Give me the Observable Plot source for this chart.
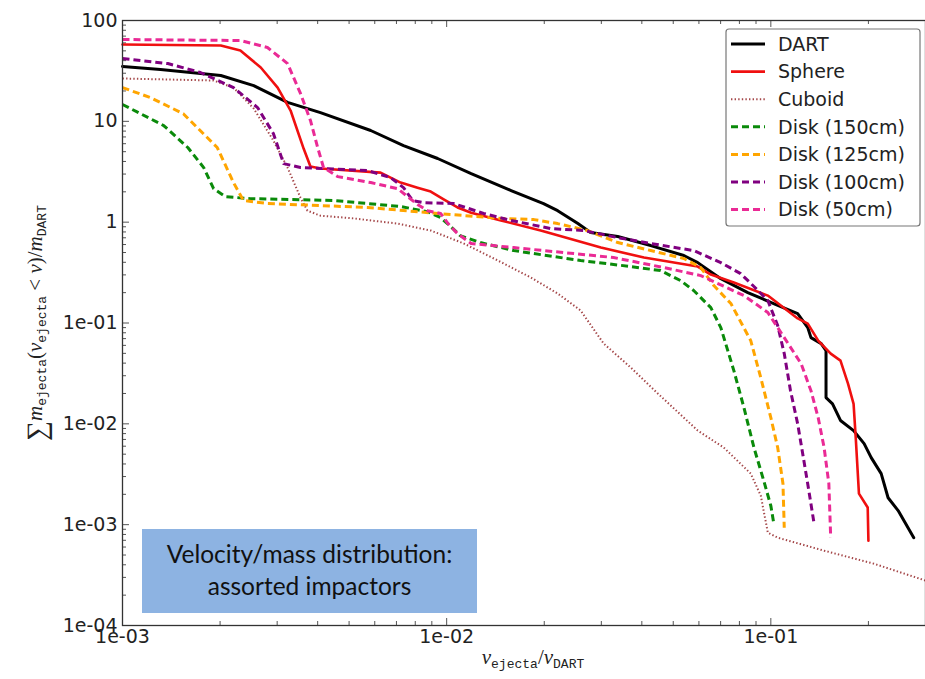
<!DOCTYPE html>
<html><head><meta charset="utf-8">
<script src="https://cdn.jsdelivr.net/npm/d3@7"></script>
<script src="https://cdn.jsdelivr.net/npm/@observablehq/plot@0.6"></script>
<style>body{margin:0;background:#fff}#chart{width:925px;height:679px;overflow:hidden}</style>
</head><body><div id="chart"></div>
<script>
// ---- data ----
const seriesNames = ["DART", "Sphere", "Cuboid", "Disk (150cm)", "Disk (125cm)", "Disk (100cm)", "Disk (50cm)"];
const seriesColors = ["#000000", "#f01010", "#a5484a", "#0a8a0a", "#ffa500", "#800080", "#ea2a95"];

const dartX = [1e-3,1.31e-3,2.01e-3,2.54e-3,3.23e-3,4.08e-3,5.83e-3,7.36e-3,9.38e-3,1.19e-2,1.58e-2,1.99e-2,2.20e-2,2.54e-2,2.78e-2,3.37e-2,4.26e-2,5.39e-2,5.95e-2,7.01e-2,8.49e-2,0.102,0.121,0.130,0.133,0.143,0.148,0.148,0.155,0.164,0.180,0.194,0.204,0.219,0.230,0.247,0.276];
const dartY = [35.0,32.7,28.5,22.6,15.4,12.2,8.11,5.75,4.28,3.03,2.06,1.53,1.30,0.968,0.789,0.720,0.586,0.467,0.397,0.275,0.200,0.156,0.124,0.0900,0.0716,0.0625,0.0532,0.0182,0.0158,0.0108,0.00857,0.00637,0.00462,0.00321,0.00185,0.00138,0.000743];

const sphereX = [1e-3,2.01e-3,2.31e-3,2.67e-3,3.01e-3,3.30e-3,3.62e-3,3.80e-3,4.08e-3,6.25e-3,7.21e-3,8.13e-3,8.93e-3,9.79e-3,1.08e-2,1.19e-2,1.47e-2,1.95e-2,2.99e-2,4.06e-2,5.95e-2,6.53e-2,7.69e-2,9.79e-2,0.121,0.130,0.140,0.153,0.164,0.173,0.180,0.183,0.187,0.199,0.200];
const sphereY = [57.8,56.5,50.4,34.2,21.6,12.8,5.37,3.56,3.40,3.10,2.47,2.20,2.01,1.68,1.40,1.24,1.04,0.826,0.560,0.446,0.363,0.302,0.252,0.187,0.111,0.0986,0.0668,0.0497,0.0424,0.0251,0.0158,0.00681,0.00203,0.00148,0.000693];

const cuboidX = [1e-3,1.91e-3,2.20e-3,2.54e-3,2.92e-3,3.23e-3,3.54e-3,3.72e-3,4.08e-3,5.16e-3,7.06e-3,8.93e-3,1.13e-2,1.44e-2,1.82e-2,2.20e-2,2.59e-2,3.05e-2,3.70e-2,4.48e-2,5.95e-2,7.16e-2,8.67e-2,9.31e-2,9.79e-2,0.105,0.146,0.208,0.301];
const cuboidY = [26.6,25.4,21.6,13.4,6.45,3.48,1.75,1.30,1.16,1.09,0.968,0.826,0.614,0.416,0.282,0.196,0.133,0.0625,0.0361,0.0200,0.00857,0.00581,0.00321,0.00194,0.000833,0.000743,0.000552,0.000410,0.000278];

const disk150X = [1e-3,1.34e-3,1.59e-3,1.78e-3,1.91e-3,2.08e-3,2.48e-3,4.48e-3,7.21e-3,8.73e-3,9.58e-3,1.03e-2,1.10e-2,1.27e-2,1.61e-2,2.59e-2,3.70e-2,4.57e-2,5.27e-2,5.78e-2,6.53e-2,7.01e-2,7.69e-2,8.26e-2,8.87e-2,9.51e-2,0.100,0.102];
const disk150Y = [14.7,9.08,5.50,3.48,2.15,1.79,1.71,1.64,1.43,1.27,1.11,0.904,0.736,0.628,0.523,0.416,0.363,0.331,0.263,0.210,0.142,0.0900,0.0337,0.0145,0.00581,0.00273,0.00154,0.00105];

const disk125X = [1e-3,1.22e-3,1.54e-3,1.96e-3,2.20e-3,2.36e-3,2.80e-3,5.70e-3,9.38e-3,1.47e-2,1.86e-2,2.20e-2,2.72e-2,3.37e-2,4.26e-2,5.39e-2,6.08e-2,6.67e-2,7.53e-2,8.67e-2,9.31e-2,0.100,0.105,0.109,0.110];
const disk125Y = [21.6,17.2,11.9,5.50,2.47,1.64,1.53,1.40,1.22,1.09,1.06,0.968,0.826,0.628,0.523,0.436,0.355,0.235,0.156,0.0668,0.0287,0.0115,0.00581,0.00255,0.000933];

const disk100X = [1e-3,1.38e-3,1.74e-3,2.20e-3,2.61e-3,2.92e-3,3.14e-3,3.54e-3,5.70e-3,6.71e-3,7.36e-3,7.85e-3,8.49e-3,1.05e-2,1.30e-2,1.58e-2,2.09e-2,2.65e-2,3.37e-2,4.26e-2,5.78e-2,7.01e-2,8.07e-2,8.87e-2,9.79e-2,0.105,0.110,0.115,0.121,0.126,0.131,0.136];
const disk100Y = [42.0,37.4,30.5,21.6,13.7,7.57,3.81,3.48,3.25,2.77,2.20,1.64,1.56,1.53,1.22,1.04,0.865,0.826,0.703,0.614,0.523,0.397,0.309,0.230,0.167,0.0942,0.0497,0.0213,0.0100,0.00462,0.00217,0.00102];

const disk50X = [1e-3,2.31e-3,2.80e-3,3.23e-3,3.54e-3,3.80e-3,4.00e-3,4.17e-3,4.61e-3,5.83e-3,7.06e-3,7.58e-3,8.13e-3,8.73e-3,9.58e-3,1.01e-2,1.08e-2,1.19e-2,1.61e-2,2.30e-2,3.27e-2,4.67e-2,6.08e-2,8.26e-2,9.79e-2,0.110,0.124,0.133,0.140,0.146,0.151,0.153];
const disk50Y = [64.8,63.3,54.0,37.4,18.9,10.2,5.50,3.48,2.83,2.47,2.15,1.79,1.50,1.30,1.22,0.968,0.770,0.614,0.560,0.499,0.446,0.355,0.295,0.187,0.127,0.0716,0.0395,0.0213,0.0115,0.00581,0.00255,0.000743];

const xTickValues = [1e-3, 1e-2, 1e-1];
const xTickLabels = ["1e-03", "1e-02", "1e-01"];
const yTickValues = [100, 10, 1, 1e-1, 1e-2, 1e-3, 1e-4];
const yTickLabels = ["100", "10", "1", "1e-01", "1e-02", "1e-03", "1e-04"];

const annotationLines = ["Velocity/mass distribution:", "assorted impactors"];

// ---- build ----
const seriesX = [dartX, sphereX, cuboidX, disk150X, disk125X, disk100X, disk50X];
const seriesY = [dartY, sphereY, cuboidY, disk150Y, disk125Y, disk100Y, disk50Y];
const seriesDash = [null, null, "1.4,2.2", "7,4", "7,4", "7,4", "7,4"];
const seriesWidth = [3, 2.6, 2, 3, 3, 3, 3];

const W = 925, H = 679, mL = 122, mR = 0, mT = 20, mB = 54;
const plotW = W - mL - mR, plotH = H - mT - mB;

const minorX = [];
for (let k = -3; k <= -1; k++) for (let m = 2; m <= 9; m++) { const v = m * Math.pow(10, k); if (v < 0.3) minorX.push(v); }
const minorY = [];
for (let k = -4; k <= 1; k++) for (let m = 2; m <= 9; m++) minorY.push(m * Math.pow(10, k));

const lineMarks = seriesNames.map((name, i) => {
  const rows = seriesX[i].map((x, j) => ({x, y: seriesY[i][j]}));
  return Plot.line(rows, {x: "x", y: "y", stroke: seriesColors[i], strokeWidth: seriesWidth[i],
    strokeDasharray: seriesDash[i], strokeLinejoin: "round", strokeLinecap: seriesDash[i] ? "butt" : "round"});
});

const tickCol = "#555";
const plot = Plot.plot({
  width: W, height: H,
  marginLeft: mL, marginRight: mR, marginTop: mT, marginBottom: mB,
  style: {fontFamily: "DejaVu Sans", fontSize: "19px", color: "#222", background: "#fff", overflow: "visible"},
  x: {type: "log", domain: [1e-3, 0.3]},
  y: {type: "log", domain: [1e-4, 100]},
  marks: [
    Plot.tickY(yTickValues, {y: d => d, insetRight: plotW - 7, stroke: tickCol}),
    Plot.tickY(minorY, {y: d => d, insetRight: plotW - 4, stroke: tickCol}),
    Plot.tickX(xTickValues, {x: d => d, insetBottom: plotH - 7, stroke: tickCol}),
    Plot.tickX(minorX, {x: d => d, insetBottom: plotH - 4, stroke: tickCol}),
    Plot.tickX(xTickValues, {x: d => d, insetTop: plotH - 7, stroke: tickCol}),
    Plot.tickX(minorX, {x: d => d, insetTop: plotH - 4, stroke: tickCol}),
    ...lineMarks,
    Plot.frame({stroke: "#333", strokeWidth: 1.3}),
    Plot.axisY(yTickValues, {tickSize: 0, tickPadding: 5, tickFormat: d => yTickLabels[yTickValues.indexOf(d)], label: null, fill: "#222"}),
    Plot.axisX(xTickValues, {tickSize: 0, tickPadding: 4, tickFormat: d => xTickLabels[xTickValues.indexOf(d)], label: null, fill: "#222"})
  ]
});
document.getElementById("chart").appendChild(plot);

const svg = d3.select(plot);

// annotation box
const ann = svg.append("g");
ann.append("rect").attr("x", 142).attr("y", 529).attr("width", 335).attr("height", 84).attr("fill", "#8db3e2");
annotationLines.forEach((t, i) => {
  ann.append("text").attr("x", 309.5).attr("y", 563 + i * 32).attr("text-anchor", "middle")
    .attr("font-family", "Lato, 'Open Sans', sans-serif").attr("font-size", 24.5).attr("fill", "#111").text(t);
});

// legend
const lg = svg.append("g");
lg.append("rect").attr("x", 726).attr("y", 29).attr("width", 194).attr("height", 197).attr("rx", 3)
  .attr("fill", "#fff").attr("stroke", "#777").attr("stroke-width", 1.2);
seriesNames.forEach((name, i) => {
  const yy = 44 + i * 27.6;
  lg.append("line").attr("x1", 731).attr("x2", 765).attr("y1", yy).attr("y2", yy)
    .attr("stroke", seriesColors[i]).attr("stroke-width", seriesWidth[i])
    .attr("stroke-dasharray", seriesDash[i]);
  lg.append("text").attr("x", 778).attr("y", yy).attr("dy", "0.36em").attr("text-anchor", "start")
    .attr("font-family", "DejaVu Sans").attr("font-size", 19).attr("fill", "#222").text(name);
});

// y label (math)
const yl = svg.append("text").attr("transform", "translate(42,323) rotate(-90)").attr("text-anchor", "middle")
  .style("font-family", "'Liberation Serif', 'DejaVu Serif', serif").attr("font-size", 21).attr("fill", "#222");
function piece(sel, txt, opts = {}) {
  const t = sel.append("tspan").text(txt);
  if (opts.italic) t.style("font-style", "italic");
  if (opts.mono) t.style("font-family", "'Liberation Mono', 'DejaVu Sans Mono', monospace");
  if (opts.size) t.attr("font-size", opts.size);
  if (opts.dy) t.attr("dy", opts.dy);
  return t;
}
piece(yl, "\u2211", {size: 28, dy: 4});
piece(yl, "m", {italic: true, dy: -4});
piece(yl, "ejecta", {mono: true, size: 13, dy: 4});
piece(yl, "(", {dy: -4});
piece(yl, "v", {italic: true});
piece(yl, "ejecta", {mono: true, size: 13, dy: 4});
piece(yl, " < ", {dy: -4});
piece(yl, "v", {italic: true});
piece(yl, ")/");
piece(yl, "m", {italic: true});
piece(yl, "DART", {mono: true, size: 13, dy: 4});

// x label (math)
const xl = svg.append("text").attr("x", 533).attr("y", 664).attr("text-anchor", "middle")
  .style("font-family", "'Liberation Serif', 'DejaVu Serif', serif").attr("font-size", 21).attr("fill", "#222");
piece(xl, "v", {italic: true});
piece(xl, "ejecta", {mono: true, size: 13, dy: 4});
piece(xl, "/", {dy: -4});
piece(xl, "v", {italic: true});
piece(xl, "DART", {mono: true, size: 13, dy: 4});
</script>
</body></html>
